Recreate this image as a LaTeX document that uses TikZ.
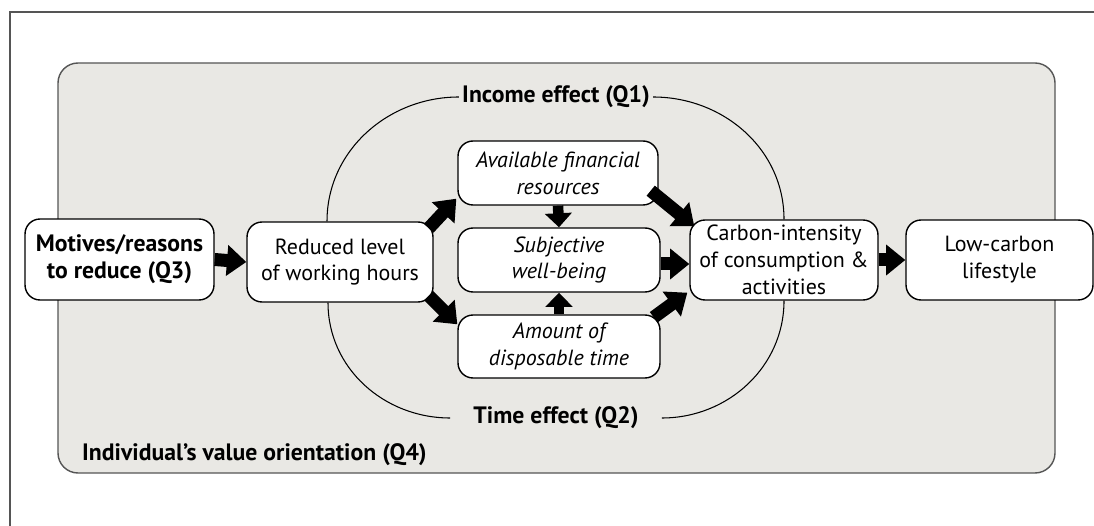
\documentclass[tikz,border=0pt]{standalone}
\usepackage{fontspec}
\setmainfont{PT Sans}
\setsansfont{PT Sans}
\usetikzlibrary{arrows.meta}
\definecolor{panelgray}{RGB}{233,232,228}
\definecolor{framegray}{RGB}{85,85,85}
\newcommand{\dsize}{\fontsize{12.5}{15.3}\selectfont}
\newcommand{\bsize}{\fontsize{13.5}{15.5}\selectfont}
\tikzset{every node/.append style={font=\dsize}}

\begin{document}
\begin{tikzpicture}[x=0.02cm, y=-0.02cm]

  \tikzstyle{box}=[draw, fill=white, line width=0.8pt, rounded corners=0.3cm, align=center, inner sep=0pt]
  \tikzstyle{effect}=[font=\bsize\bf, inner ysep=2pt]
  \tikzstyle{flow}=[line width=7.4pt, -{Triangle[length=11pt, width=17pt]}]
  \tikzstyle{short flow}=[line width=6pt, -{Triangle[length=8pt, width=15pt]}]
  \tikzstyle{effect line}=[line width=0.6pt]

  \useasboundingbox (0,0) rectangle (1094,526);
  \draw[framegray, line width=1.1pt] (10,526) |- (1094,12);
  \draw[framegray, line width=0.8pt, fill=panelgray, rounded corners=0.4cm] (58,63) rectangle (1055,473);

  \node[box, minimum width=3.78cm, minimum height=1.62cm, font=\bsize\bf] (motives) at (119.5,259.5) {Motives/reasons\\to reduce (Q3)};
  \node[box, minimum width=3.72cm, minimum height=1.6cm] (red) at (340,262) {Reduced level\\of working hours};
  \node[box, minimum width=4.0cm, minimum height=1.28cm, font=\dsize\it] (avail) at (558,173) {Available financial\\resources};
  \node[box, minimum width=4.04cm, minimum height=1.28cm, font=\dsize\it] (subj) at (559,260) {Subjective\\well-being};
  \node[box, minimum width=4.04cm, minimum height=1.26cm, font=\dsize\it] (amount) at (559,346.5) {Amount of\\disposable time};
  \node[box, minimum width=3.76cm, minimum height=1.6cm] (carbon) at (784,260) {Carbon-intensity\\of consumption \&\\activities};
  \node[box, minimum width=3.74cm, minimum height=1.6cm] (low) at (999.5,260) {Low-carbon\\lifestyle};

  \node[effect, inner xsep=0.06cm] (income) at (556,97) {Income effect (Q1)};
  \node[effect, inner xsep=0.46cm] (time) at (556,418) {Time effect (Q2)};
  \node[effect, anchor=west] (value) at (76,455) {Individual’s value orientation (Q4)};

  \draw[effect line] ([xshift=-0.26cm]red.north) to[out=90, in=180] (income.west);
  \draw[effect line] (income.east) to[out=0, in=90] (carbon.north);
  \draw[effect line] ([xshift=-0.24cm]red.south) to[out=-90, in=180] (time.west);
  \draw[effect line] (time.east) to[out=0, in=-90] (carbon.south);

  \draw[flow] (motives.east) -- (red.west);
  \draw[flow] ([shift={(-5,7)}]red.north east) -- ([shift={(-1,-7)}]avail.south west);
  \draw[flow] ([shift={(-5,-7)}]red.south east) -- ([shift={(0,10)}]amount.north west);
  \draw[short flow] (avail.south) -- (subj.north);
  \draw[short flow] (amount.north) -- (subj.south);
  \draw[flow] ([yshift=-0.08cm]subj.east) -- ([yshift=-0.08cm]carbon.west);
  \draw[flow] ([shift={(-8,-15)}]avail.south east) -- ([shift={(5,7)}]carbon.north west);
  \draw[flow] ([shift={(-7,3)}]amount.north east) -- ([shift={(-2,-8)}]carbon.south west);
  \draw[flow] (carbon.east) -- (low.west);

\end{tikzpicture}
\end{document}
